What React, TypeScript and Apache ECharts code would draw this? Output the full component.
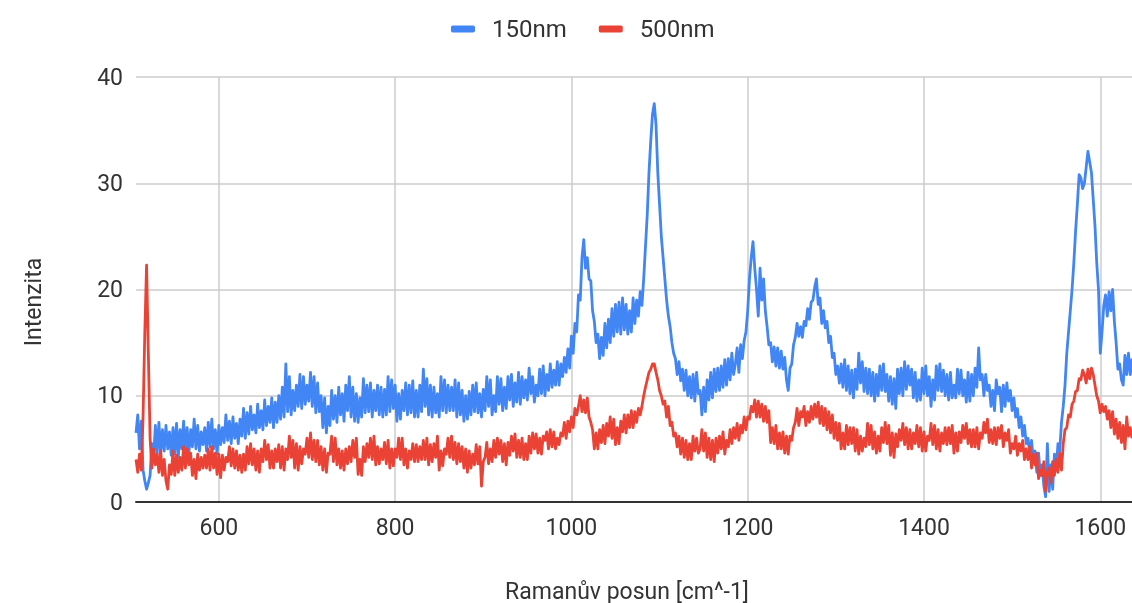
import React, { useEffect, useRef } from "react";
import * as echarts from "echarts";

// Raman shift sampling grid (cm^-1)
const X_START = 506;
const X_STEP = 2;

const seriesNames = ["150nm", "500nm"];
const seriesColors = ["#4285F4", "#EA4335"];

// 150nm intensities, rows of 20 samples (40 cm^-1 per row)
const intensity150 = [
  6.5, 8.2, 5.0, 7.6, 3.0, 2.0, 1.2, 1.8, 2.5, 5.5, 4.2, 7.2, 4.5, 7.5, 4.6, 6.8, 4.8, 7.2, 5.0, 6.6, // 506
  4.4, 7.0, 4.5, 7.4, 4.2, 6.8, 5.0, 7.6, 4.8, 7.0, 4.6, 6.8, 5.2, 7.8, 5.0, 7.2, 4.8, 6.6, 5.4, 7.0, // 546
  4.8, 7.5, 5.2, 7.8, 5.0, 6.8, 4.5, 7.2, 5.4, 7.0, 5.6, 8.2, 5.8, 7.6, 5.5, 8.0, 6.0, 7.4, 5.5, 7.8, // 586
  6.2, 8.8, 6.0, 8.4, 6.4, 9.0, 6.8, 8.2, 6.5, 9.2, 7.0, 8.6, 6.8, 9.6, 7.2, 9.0, 7.5, 9.8, 7.0, 9.4, // 626
  7.5, 10.0, 7.8, 10.8, 8.0, 13.0, 8.5, 11.8, 8.2, 10.5, 8.6, 11.0, 9.0, 12.0, 8.8, 11.8, 9.2, 11.0, 9.5, 12.2, // 666
  9.0, 11.8, 8.4, 11.2, 8.5, 10.0, 7.0, 9.8, 6.5, 9.0, 7.2, 10.5, 7.8, 10.0, 7.5, 10.8, 8.2, 10.2, 7.6, 11.0, // 706
  8.6, 11.8, 8.0, 10.8, 7.6, 10.2, 7.5, 9.8, 8.0, 11.6, 8.4, 11.0, 8.5, 11.2, 8.0, 10.5, 8.6, 11.0, 8.2, 10.8, // 746
  8.0, 10.6, 8.2, 11.8, 8.5, 11.5, 8.8, 11.0, 7.6, 10.2, 7.8, 10.5, 8.6, 11.2, 8.2, 11.0, 8.4, 11.4, 8.0, 10.5, // 786
  8.0, 11.0, 8.5, 12.5, 9.0, 11.6, 8.2, 11.0, 8.0, 10.8, 8.4, 10.2, 8.0, 11.8, 8.6, 11.5, 8.4, 11.0, 8.6, 10.8, // 826
  8.6, 11.5, 8.0, 11.2, 8.2, 10.5, 7.6, 10.0, 7.8, 10.4, 8.2, 11.0, 8.5, 11.2, 8.4, 10.2, 8.0, 10.6, 8.6, 11.8, // 866
  9.0, 11.5, 8.2, 10.0, 8.5, 11.8, 9.2, 11.6, 8.6, 10.8, 8.8, 11.8, 9.6, 12.0, 9.0, 11.2, 9.4, 12.2, 9.2, 11.8, // 906
  9.8, 11.5, 9.6, 12.6, 10.2, 11.8, 9.4, 11.0, 10.0, 12.5, 10.2, 12.8, 10.0, 12.0, 10.5, 13.0, 10.8, 12.4, 11.0, 13.2, // 946
  11.0, 13.0, 11.8, 13.6, 12.2, 14.4, 12.6, 15.6, 14.0, 16.8, 16.0, 19.5, 19.0, 23.0, 24.7, 22.0, 23.0, 21.0, 20.8, 18.0, // 986
  17.0, 15.0, 15.8, 13.5, 15.5, 13.8, 16.8, 14.5, 17.2, 15.0, 18.2, 15.6, 18.6, 16.0, 18.8, 15.8, 19.2, 16.2, 18.6, 15.8, // 1026
  18.0, 16.0, 19.2, 16.8, 19.0, 17.5, 19.8, 18.5, 21.0, 24.0, 27.0, 31.0, 34.0, 36.5, 37.5, 35.5, 31.0, 28.0, 25.0, 23.0, // 1066
  21.0, 19.0, 17.5, 16.5, 15.0, 14.0, 13.5, 12.0, 13.2, 11.4, 12.5, 10.5, 12.4, 10.0, 11.8, 9.8, 12.0, 9.5, 12.2, 10.2, // 1106
  10.5, 8.2, 10.8, 8.5, 11.5, 9.6, 12.2, 9.8, 12.5, 10.4, 12.6, 10.5, 12.8, 10.8, 13.4, 11.0, 13.5, 11.5, 14.0, 12.0, // 1146
  13.0, 14.5, 12.2, 14.8, 13.5, 15.2, 16.0, 18.0, 21.0, 23.0, 24.5, 22.0, 20.0, 17.5, 22.0, 19.0, 21.0, 18.0, 16.5, 14.8, // 1186
  15.0, 13.2, 14.6, 12.8, 14.5, 12.6, 14.2, 12.5, 13.6, 11.5, 10.5, 12.6, 13.0, 14.8, 15.5, 16.8, 15.6, 16.5, 15.5, 17.0, // 1226
  16.6, 18.2, 17.2, 18.8, 19.0, 20.2, 21.0, 18.6, 19.2, 16.8, 18.0, 16.4, 17.0, 15.0, 15.6, 13.6, 14.0, 12.0, 12.8, 11.2, // 1266
  13.0, 10.8, 13.4, 10.5, 12.8, 10.2, 12.4, 9.8, 12.5, 10.6, 14.0, 11.2, 13.2, 10.4, 12.6, 10.2, 12.5, 10.0, 12.2, 9.5, // 1306
  12.0, 10.0, 12.8, 10.5, 13.0, 10.4, 12.0, 9.5, 11.8, 9.2, 11.6, 8.8, 12.5, 10.2, 12.6, 10.0, 13.2, 10.6, 12.8, 11.0, // 1346
  12.5, 9.8, 12.2, 9.5, 11.5, 9.6, 12.6, 10.2, 12.8, 10.0, 11.8, 9.0, 11.5, 9.6, 12.8, 10.5, 13.0, 10.4, 12.4, 10.0, // 1386
  12.0, 9.6, 12.2, 9.8, 11.0, 9.8, 12.5, 10.2, 12.4, 10.0, 11.5, 9.4, 12.2, 9.5, 12.0, 10.0, 12.6, 10.8, 14.5, 11.5, // 1426
  12.0, 10.0, 12.0, 10.5, 11.0, 9.0, 10.5, 8.6, 11.5, 10.2, 10.8, 8.5, 11.0, 9.0, 11.2, 9.5, 10.5, 8.6, 9.8, 8.0, // 1466
  8.8, 7.0, 8.0, 6.2, 7.2, 5.5, 6.0, 4.5, 5.8, 4.0, 4.8, 2.8, 4.6, 2.5, 3.5, 1.5, 0.5, 5.5, 1.0, 3.5, // 1506
  1.2, 4.5, 3.0, 5.5, 4.8, 7.5, 9.0, 11.0, 14.0, 16.0, 18.0, 20.0, 22.5, 25.5, 28.0, 30.8, 30.5, 29.5, 30.0, 31.5, // 1546
  33.0, 32.0, 31.0, 28.5, 26.0, 22.5, 20.0, 14.0, 16.0, 18.5, 19.5, 17.5, 19.8, 18.0, 20.0, 17.0, 15.0, 12.5, 13.0, 11.5, // 1586
  11.0, 13.8, 12.0, 14.0, 12.0, 13.5, // 1626
];

// 500nm intensities, same sampling grid
const intensity500 = [
  4.0, 2.8, 4.5, 3.0, 8.0, 16.0, 22.3, 14.0, 6.0, 3.2, 5.0, 3.5, 4.5, 2.8, 4.8, 2.5, 4.0, 2.0, 1.2, 3.5, // 506
  2.6, 4.8, 2.5, 4.4, 2.8, 4.2, 3.0, 5.2, 3.2, 5.0, 3.5, 4.6, 2.5, 4.0, 2.2, 4.5, 3.0, 4.2, 3.2, 4.4, // 546
  3.2, 5.0, 3.0, 5.2, 3.2, 4.6, 2.6, 4.5, 2.3, 4.4, 3.0, 4.2, 3.8, 5.2, 3.4, 5.0, 3.2, 4.8, 3.0, 4.4, // 586
  2.8, 4.5, 3.0, 5.2, 3.6, 5.5, 3.5, 5.0, 3.0, 4.8, 2.8, 5.0, 3.8, 5.8, 4.0, 5.4, 3.2, 4.8, 3.2, 5.0, // 626
  3.8, 5.4, 3.2, 5.2, 3.0, 5.0, 4.0, 6.2, 4.2, 5.8, 3.2, 5.5, 3.0, 5.2, 3.6, 5.0, 4.5, 6.0, 4.2, 6.5, // 666
  4.0, 5.8, 3.8, 5.8, 3.5, 5.2, 3.0, 5.0, 2.8, 4.6, 4.5, 6.2, 3.8, 6.0, 3.5, 5.0, 3.2, 4.8, 3.0, 5.0, // 706
  3.6, 5.2, 3.8, 5.8, 4.2, 6.0, 2.6, 4.0, 2.5, 5.2, 3.8, 5.5, 4.2, 6.0, 4.0, 6.2, 3.5, 5.2, 3.6, 5.0, // 746
  4.0, 5.6, 3.6, 5.8, 3.2, 5.0, 3.4, 5.0, 4.2, 6.0, 4.0, 6.0, 3.5, 5.0, 3.2, 4.8, 4.0, 5.5, 3.8, 5.4, // 786
  3.8, 5.2, 4.0, 5.8, 4.0, 6.0, 3.5, 5.4, 3.8, 5.5, 4.2, 6.2, 3.0, 4.8, 3.4, 5.0, 4.5, 6.0, 4.2, 6.2, // 826
  4.0, 5.6, 3.6, 5.5, 3.8, 5.2, 3.2, 5.0, 2.8, 4.8, 3.2, 4.5, 3.5, 5.4, 3.6, 5.2, 1.5, 3.8, 4.2, 5.6, // 866
  3.6, 5.0, 3.8, 5.8, 4.2, 6.0, 4.5, 5.8, 3.8, 5.5, 3.5, 5.6, 4.4, 6.2, 4.8, 6.4, 4.2, 5.8, 4.2, 6.0, // 906
  4.0, 5.5, 4.0, 6.2, 4.6, 6.5, 5.0, 6.4, 4.6, 6.0, 4.5, 6.2, 5.8, 6.6, 5.0, 6.8, 5.2, 6.6, 5.0, 6.0, // 946
  5.4, 6.5, 6.2, 7.5, 6.0, 7.6, 6.6, 8.0, 7.0, 8.8, 8.2, 9.0, 10.0, 8.5, 9.6, 8.4, 9.8, 8.0, 7.5, 6.8, // 986
  5.0, 6.5, 5.0, 6.8, 5.6, 7.2, 5.5, 7.4, 6.2, 8.0, 6.0, 7.8, 5.4, 7.0, 5.5, 7.6, 6.6, 8.2, 6.5, 8.2, // 1026
  7.0, 8.6, 7.0, 8.5, 7.5, 8.8, 8.2, 9.0, 10.0, 10.8, 11.5, 12.2, 12.5, 13.0, 13.0, 12.2, 11.5, 10.5, 10.0, 9.2, // 1066
  9.5, 8.0, 9.0, 7.2, 7.5, 6.2, 6.5, 5.2, 6.2, 4.5, 6.0, 4.2, 5.8, 4.0, 5.5, 4.0, 6.2, 4.8, 6.0, 4.6, // 1106
  5.0, 6.8, 4.8, 6.5, 4.2, 6.0, 4.0, 5.8, 3.8, 6.0, 4.6, 6.2, 5.0, 6.6, 4.5, 5.8, 5.2, 6.8, 5.5, 7.0, // 1146
  6.0, 7.4, 5.8, 7.2, 6.5, 8.0, 6.8, 8.0, 7.8, 9.0, 8.5, 9.6, 8.0, 9.5, 8.0, 9.2, 7.6, 9.0, 7.5, 8.6, // 1186
  5.6, 7.0, 5.5, 7.2, 5.0, 6.5, 5.0, 6.6, 4.6, 6.2, 4.5, 6.2, 5.8, 7.0, 7.5, 8.8, 7.2, 8.5, 8.0, 9.0, // 1226
  7.2, 8.5, 7.5, 9.0, 7.8, 9.2, 8.0, 9.4, 7.4, 9.0, 7.2, 8.8, 6.8, 8.5, 6.5, 8.2, 6.0, 7.5, 5.8, 7.4, // 1266
  5.0, 6.5, 5.0, 7.2, 5.4, 7.0, 5.5, 7.0, 4.8, 6.8, 4.5, 6.2, 4.8, 6.0, 5.2, 7.4, 5.4, 7.2, 5.0, 6.6, // 1306
  4.6, 6.2, 4.8, 7.0, 5.6, 7.5, 5.5, 7.2, 4.4, 6.5, 4.2, 6.4, 5.2, 6.8, 5.8, 7.4, 5.4, 7.0, 5.0, 6.8, // 1346
  5.0, 6.5, 5.5, 7.2, 5.2, 7.0, 4.8, 6.6, 4.8, 6.2, 5.8, 7.4, 5.4, 7.2, 5.0, 6.8, 4.8, 6.5, 5.5, 7.0, // 1386
  5.4, 7.0, 5.5, 7.2, 4.6, 6.5, 4.8, 6.6, 5.6, 7.2, 6.0, 7.4, 5.5, 6.8, 5.2, 6.8, 5.2, 7.0, 5.0, 6.5, // 1426
  6.0, 7.5, 6.5, 7.8, 5.6, 6.8, 5.5, 7.0, 5.4, 7.0, 6.0, 7.2, 5.2, 6.5, 5.8, 6.8, 4.6, 5.5, 5.0, 6.2, // 1466
  4.4, 5.5, 4.8, 5.8, 4.0, 5.0, 4.0, 5.2, 3.2, 4.5, 3.5, 4.6, 2.2, 3.0, 2.5, 3.8, 1.0, 2.8, 3.2, 1.8, // 1506
  3.8, 2.5, 4.0, 2.8, 4.6, 3.0, 5.5, 6.8, 7.0, 8.2, 8.0, 9.2, 9.5, 10.4, 10.5, 11.6, 11.5, 12.4, 12.0, 11.2, // 1546
  12.5, 11.6, 12.6, 12.0, 11.0, 10.0, 9.5, 8.4, 9.2, 8.5, 9.0, 7.8, 8.6, 7.0, 8.5, 6.4, 7.8, 6.0, 7.5, 5.6, // 1586
  7.2, 5.0, 8.0, 6.2, 7.0, 6.0, // 1626
];

const xTitle = "Ramanův posun [cm^-1]";
const yTitle = "Intenzita";

const FONT = "Roboto, 'Noto Sans', Arial, sans-serif";
const TEXT = "#333333";

export default function App() {
  const ref = useRef<HTMLDivElement>(null);

  useEffect(() => {
    if (!ref.current) return;
    const chart = echarts.init(ref.current, undefined, { renderer: "svg" });
    const toPairs = (arr: number[]) => arr.map((v, i) => [X_START + i * X_STEP, v]);
    const all = [intensity150, intensity500];

    chart.setOption({
      animation: false,
      textStyle: { fontFamily: FONT },
      legend: {
        data: seriesNames,
        left: 446,
        top: 12,
        itemWidth: 24,
        itemHeight: 7,
        itemGap: 32,
        icon: "roundRect",
        selectedMode: false,
        textStyle: { fontSize: 24, color: TEXT, fontFamily: FONT, padding: [0, 0, 0, 12] },
      },
      grid: { left: 136, right: 0, top: 77, bottom: 101, containLabel: false },
      xAxis: {
        type: "value",
        min: 506,
        max: 1636,
        splitNumber: 5,
        axisLine: { show: true, lineStyle: { color: "#333333", width: 2 } },
        axisTick: { show: false },
        axisLabel: {
          fontSize: 23,
          color: TEXT,
          fontFamily: FONT,
          margin: 14,
          showMinLabel: false,
          showMaxLabel: false,
          formatter: (v: number) => String(v),
        },
        splitLine: {
          show: true,
          showMinLine: false,
          showMaxLine: false,
          lineStyle: { color: "#cccccc", width: 1.5 },
        },
      },
      yAxis: {
        type: "value",
        min: 0,
        max: 40,
        interval: 10,
        axisLine: { show: false },
        axisTick: { show: false },
        axisLabel: {
          fontSize: 23,
          color: TEXT,
          fontFamily: FONT,
          margin: 13,
          formatter: (v: number) => String(v),
        },
        splitLine: { show: true, lineStyle: { color: "#cccccc", width: 1.5 } },
      },
      graphic: [
        {
          type: "text",
          x: 627,
          y: 591,
          style: {
            text: xTitle,
            fontSize: 23,
            fontFamily: FONT,
            fill: TEXT,
            textAlign: "center",
            textVerticalAlign: "middle",
          },
        },
        {
          type: "text",
          x: 33,
          y: 302,
          rotation: Math.PI / 2,
          style: {
            text: yTitle,
            fontSize: 23,
            fontFamily: FONT,
            fill: TEXT,
            textAlign: "center",
            textVerticalAlign: "middle",
          },
        },
      ],
      series: all.map((arr, k) => ({
        name: seriesNames[k],
        type: "line",
        data: toPairs(arr),
        showSymbol: false,
        symbol: "none",
        color: seriesColors[k],
        lineStyle: { width: 2.8, color: seriesColors[k], join: "round" },
        z: 2 + k,
      })),
    });
    return () => chart.dispose();
  }, []);

  return (
    <div
      ref={ref}
      style={{ position: "fixed", left: 0, top: 0, width: 1132, height: 603 }}
    />
  );
}
